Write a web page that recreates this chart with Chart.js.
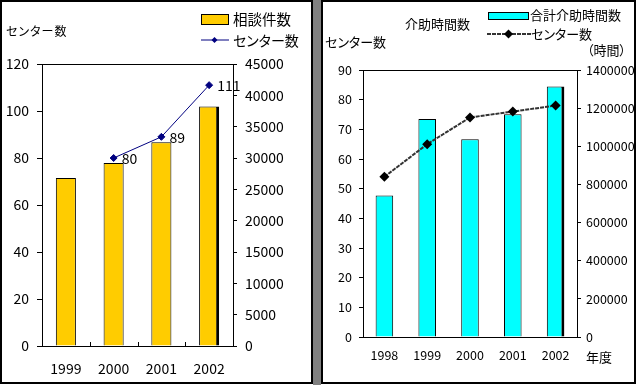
<!DOCTYPE html>
<html>
<head>
<meta charset="utf-8">
<script src="https://cdn.jsdelivr.net/npm/chart.js@4.4.0/dist/chart.umd.min.js"></script>
<style>
  body { margin: 0; width: 637px; height: 385px; background: #fff; position: relative; overflow: hidden;
         font-family: "Noto Sans CJK JP", sans-serif; }
  .panel { position: absolute; top: 0; height: 384px; box-sizing: border-box; border: 2px solid #000; background: #fff; }
  .gap { position: absolute; left: 313px; width: 8px; top: 0; height: 385px; background: #808080; }
  canvas { position: absolute; top: 0; }
  .t { position: absolute; line-height: 1; white-space: nowrap; color: #000; font-feature-settings: "palt"; }
  .box { position: absolute; box-sizing: border-box; border: 1px solid #000; }
  svg { position: absolute; }
</style>
</head>
<body>
<div class="panel" style="left:0; width:313px;"></div>
<div class="gap"></div>
<div class="panel" style="left:321px; width:315px;"></div>

<canvas id="left" width="312" height="383" style="left:0;"></canvas>
<canvas id="right" width="315" height="383" style="left:321px;"></canvas>

<!-- left panel texts -->
<div class="t" style="left:6px; top:25px; font-size:12px; letter-spacing:1px;">センター数</div>
<div class="box" style="left:201px; top:14px; width:28px; height:11px; background:#FFCC00;"></div>
<div class="t" style="left:233px; top:12px; font-size:14.5px;">相談件数</div>
<svg style="left:200px; top:34px;" width="30" height="12">
  <line x1="1" y1="6" x2="29" y2="6" stroke="#000080" stroke-width="1"/>
  <polygon points="14.5,3 17.5,6 14.5,9 11.5,6" fill="#000080"/>
</svg>
<div class="t" style="left:233px; top:33px; font-size:14px;">センター数</div>

<!-- right panel texts -->
<div class="t" style="left:405px; top:17px; font-size:13px;">介助時間数</div>
<div class="t" style="left:325px; top:35px; font-size:13px;">センター数</div>
<div class="t" style="left:587px; top:43px; font-size:13px;">（時間）</div>
<div class="t" style="left:586px; top:350px; font-size:13px;">年度</div>
<div class="box" style="left:488px; top:12px; width:41px; height:8px; background:#00FFFF;"></div>
<div class="t" style="left:530px; top:8px; font-size:13px;">合計介助時間数</div>
<svg style="left:486px; top:28px;" width="46" height="12">
  <line x1="1" y1="6" x2="45" y2="6" stroke="#333" stroke-width="2" stroke-dasharray="4,1"/>
  <polygon points="22.5,1.5 27,6 22.5,10.5 18,6" fill="#000"/>
</svg>
<div class="t" style="left:531px; top:27px; font-size:13px;">センター数</div>

<script>
// left chart: 相談件数 (bars, right axis) and センター数 (line, left axis)
var yearsLeft = ['1999', '2000', '2001', '2002'];
var soudanKensu = [26800, 29200, 32500, 38200];
var centerLeft = [null, 80, 89, 111];
var leftAxisMax = 120, leftAxisStep = 20;
var leftAxis2Max = 45000, leftAxis2Step = 5000;

// right chart: 合計介助時間数 (bars, right axis) and センター数 (line, left axis)
var yearsRight = ['1998', '1999', '2000', '2001', '2002'];
var kaijoJikan = [742000, 1143000, 1037000, 1168000, 1313000];
var centerRight = [54, 65, 74, 76, 78];
var rightAxisMax = 90, rightAxisStep = 10;
var rightAxis2Max = 1400000, rightAxis2Step = 200000;

Chart.defaults.font.family = '"Noto Sans CJK JP", sans-serif';
Chart.defaults.color = '#000';

function plain(v) { return String(v); }

// box around plot area
var frame = {
  id: 'frame',
  afterDraw: function (chart) {
    var a = chart.chartArea, c = chart.ctx;
    c.save();
    c.strokeStyle = '#000';
    c.lineWidth = 1;
    c.strokeRect(Math.round(a.left) + 0.5, Math.round(a.top) + 0.5,
      Math.round(a.right - a.left), Math.round(a.bottom - a.top));
    c.restore();
  }
};

// small ticks pointing up between categories
var innerTicks = {
  id: 'innerTicks',
  afterDraw: function (chart) {
    var x = chart.scales.x, c = chart.ctx, b = chart.chartArea.bottom;
    c.save();
    c.strokeStyle = '#000';
    c.lineWidth = 1;
    for (var i = 1; i < chart.data.labels.length; i++) {
      var px = Math.round((x.getPixelForValue(i - 1) + x.getPixelForValue(i)) / 2) + 0.5;
      c.beginPath();
      c.moveTo(px, b);
      c.lineTo(px, b - 4);
      c.stroke();
    }
    c.restore();
  }
};

// value labels next to the line points
var pointLabels = {
  id: 'pointLabels',
  afterDatasetsDraw: function (chart) {
    var c = chart.ctx;
    var meta = chart.getDatasetMeta(0);
    c.save();
    c.font = '14px "Noto Sans CJK JP", sans-serif';
    c.fillStyle = '#000';
    c.textAlign = 'left';
    c.textBaseline = 'middle';
    meta.data.forEach(function (p, i) {
      var v = chart.data.datasets[0].data[i];
      if (v == null) return;
      c.fillText(String(v), p.x + 8, p.y + 1);
    });
    c.restore();
  }
};

function lastBarBorder(ctx) {
  var n = ctx.chart.data.labels.length;
  return ctx.dataIndex === n - 1 ? { top: 1, left: 1, right: 3, bottom: 1 } : 1;
}

new Chart(document.getElementById('left'), {
  data: {
    labels: yearsLeft,
    datasets: [{
      type: 'line',
      label: 'センター数',
      data: centerLeft,
      yAxisID: 'y',
      borderColor: '#000080',
      backgroundColor: '#000080',
      borderWidth: 1,
      pointStyle: 'rectRot',
      pointRadius: 3.5,
      order: 0
    }, {
      type: 'bar',
      label: '相談件数',
      data: soudanKensu,
      yAxisID: 'y2',
      backgroundColor: '#FFCC00',
      borderColor: '#000',
      borderWidth: lastBarBorder,
      barPercentage: 0.42,
      categoryPercentage: 1,
      order: 1
    }]
  },
  options: {
    responsive: false,
    animation: false,
    layout: { padding: { top: 64, left: 0, right: 0, bottom: 0 } },
    plugins: { legend: { display: false }, tooltip: { enabled: false } },
    scales: {
      x: {
        grid: { display: false, drawTicks: false },
        border: { color: '#000' },
        ticks: { font: { size: 14 }, padding: 14 },
        afterFit: function (s) { s.height = 37; }
      },
      y: {
        position: 'left',
        min: 0, max: leftAxisMax,
        ticks: { stepSize: leftAxisStep, font: { size: 14 }, padding: 8, callback: plain },
        grid: { drawOnChartArea: false, tickLength: 5, color: '#000' },
        border: { color: '#000' },
        afterFit: function (s) { s.width = 42; }
      },
      y2: {
        position: 'right',
        min: 0, max: leftAxis2Max,
        ticks: { stepSize: leftAxis2Step, font: { size: 14 }, padding: 8, callback: plain },
        grid: { drawOnChartArea: false, tickLength: 4, color: '#000' },
        border: { color: '#000' },
        afterFit: function (s) { s.width = 79; }
      }
    }
  },
  plugins: [frame, innerTicks, pointLabels]
});

new Chart(document.getElementById('right'), {
  data: {
    labels: yearsRight,
    datasets: [{
      type: 'line',
      label: 'センター数',
      data: centerRight,
      yAxisID: 'y',
      borderColor: '#333',
      backgroundColor: '#000',
      borderWidth: 2,
      borderDash: [4, 1],
      pointStyle: 'rectRot',
      pointRadius: 5,
      pointBorderWidth: 0,
      order: 0
    }, {
      type: 'bar',
      label: '合計介助時間数',
      data: kaijoJikan,
      yAxisID: 'y2',
      backgroundColor: '#00FFFF',
      borderColor: '#000',
      borderWidth: lastBarBorder,
      barPercentage: 0.41,
      categoryPercentage: 1,
      order: 1
    }]
  },
  options: {
    responsive: false,
    animation: false,
    layout: { padding: { top: 70, left: 0, right: 0, bottom: 0 } },
    plugins: { legend: { display: false }, tooltip: { enabled: false } },
    scales: {
      x: {
        grid: { display: false, drawTicks: false },
        border: { color: '#000' },
        ticks: { font: { size: 12.5 }, padding: 11 },
        afterFit: function (s) { s.height = 46; }
      },
      y: {
        position: 'left',
        min: 0, max: rightAxisMax,
        ticks: { stepSize: rightAxisStep, font: { size: 12.5 }, padding: 7, callback: plain },
        grid: { drawOnChartArea: false, tickLength: 4, color: '#000' },
        border: { color: '#000' },
        afterFit: function (s) { s.width = 42; }
      },
      y2: {
        position: 'right',
        min: 0, max: rightAxis2Max,
        ticks: { stepSize: rightAxis2Step, font: { size: 12.5 }, padding: 5, callback: plain },
        grid: { drawOnChartArea: false, tickLength: 4, color: '#000' },
        border: { color: '#000' },
        afterFit: function (s) { s.width = 59; }
      }
    }
  },
  plugins: [frame]
});
</script>
</body>
</html>
